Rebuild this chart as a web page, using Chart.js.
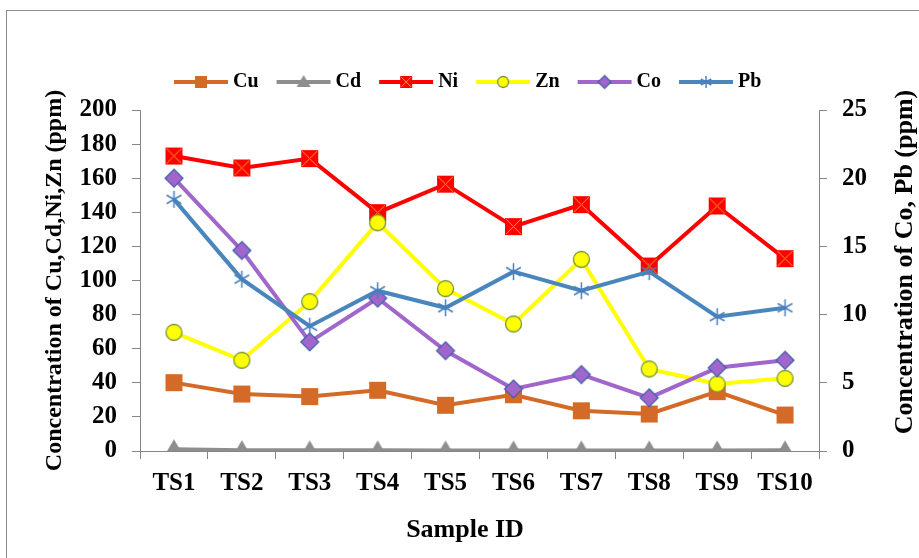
<!DOCTYPE html>
<html>
<head>
<meta charset="utf-8">
<script src="https://cdn.jsdelivr.net/npm/chart.js@4.4.0/dist/chart.umd.min.js"></script>
<style>
html, body { margin: 0; padding: 0; background: #fff; }
#wrap { position: relative; width: 919px; height: 558px; overflow: hidden; }
#frame { position: absolute; left: 6px; top: 10px; width: 960px; height: 600px; border: 1px solid #8c8c8c; }
canvas { position: absolute; left: 0; top: 0; }
</style>
</head>
<body>
<div id="wrap">
  <div id="frame"></div>
  <canvas id="chart" width="919" height="558"></canvas>
</div>
<script>
const samples = ["TS1", "TS2", "TS3", "TS4", "TS5", "TS6", "TS7", "TS8", "TS9", "TS10"];
const cu = [40.1, 33.4, 31.9, 35.6, 26.8, 33.0, 23.6, 21.7, 34.8, 21.1];
const cd = [1.0, 0.5, 0.4, 0.4, 0.3, 0.3, 0.3, 0.3, 0.3, 0.4];
const ni = [173.0, 166.0, 171.5, 139.8, 156.5, 131.6, 144.5, 108.5, 143.7, 112.8];
const zn = [69.6, 53.2, 87.6, 133.9, 95.2, 74.5, 112.4, 48.1, 39.3, 42.6];
const co = [20.0, 14.7, 8.0, 11.2, 7.35, 4.55, 5.6, 3.9, 6.1, 6.65];
const pb = [18.45, 12.6, 9.15, 11.75, 10.5, 13.15, 11.75, 13.15, 9.85, 10.5];
const leftTicks = [0, 20, 40, 60, 80, 100, 120, 140, 160, 180, 200];
const rightTicks = [0, 5, 10, 15, 20, 25];

const serif = '"Liberation Serif", "Times New Roman", serif';
const axisGray = '#868686';

// marker images, Excel style
function marker(kind, s) {
    const c = document.createElement('canvas');
    const pad = 2;
    c.width = c.height = s + pad * 2;
    const g = c.getContext('2d');
    const m = c.width / 2, h = s / 2;
    if (kind === 'square') {
        g.fillStyle = '#D46A28';
        g.fillRect(pad, pad, s, s);
    } else if (kind === 'triangle') {
        g.fillStyle = '#8E8E8E';
        g.beginPath();
        g.moveTo(m, m - h);
        g.lineTo(m + h, m + h * 0.7);
        g.lineTo(m - h, m + h * 0.7);
        g.closePath();
        g.fill();
    } else if (kind === 'ni') {
        g.fillStyle = '#FF0000';
        g.fillRect(pad, pad, s, s);
        g.strokeStyle = '#F0A020';
        g.lineWidth = 1;
        g.beginPath();
        g.moveTo(pad + 1, pad + 1); g.lineTo(pad + s - 1, pad + s - 1);
        g.moveTo(pad + s - 1, pad + 1); g.lineTo(pad + 1, pad + s - 1);
        g.stroke();
    } else if (kind === 'circle') {
        g.fillStyle = '#FFFF00';
        g.strokeStyle = '#77933C';
        g.lineWidth = 1.3;
        g.beginPath();
        g.arc(m, m, h - 0.5, 0, Math.PI * 2);
        g.fill();
        g.stroke();
    } else if (kind === 'diamond') {
        g.fillStyle = '#A066CC';
        g.strokeStyle = '#3E5FA8';
        g.lineWidth = 1.2;
        g.beginPath();
        g.moveTo(m, m - h); g.lineTo(m + h, m); g.lineTo(m, m + h); g.lineTo(m - h, m);
        g.closePath();
        g.fill();
        g.stroke();
    } else if (kind === 'star') {
        g.strokeStyle = '#4A7EBB';
        g.lineWidth = 1.5;
        g.beginPath();
        for (let k = 0; k < 3; k++) {
            const a = Math.PI / 2 + k * Math.PI / 3;
            g.moveTo(m + Math.cos(a) * h, m - Math.sin(a) * h);
            g.lineTo(m - Math.cos(a) * h, m + Math.sin(a) * h);
        }
        g.stroke();
    }
    return c;
}

function series(label, data, color, kind, axis, order, size) {
    return {
        label: label,
        data: data,
        borderColor: color,
        backgroundColor: color,
        borderWidth: 4,
        pointStyle: marker(kind, size),
        legendMark: marker(kind, Math.round(size * 0.72)),
        pointRadius: 8,
        yAxisID: axis,
        order: order,
        tension: 0
    };
}

const legendAndTitles = {
    id: 'legendAndTitles',
    afterDraw(chart) {
        const ctx = chart.ctx;
        ctx.save();
        ctx.font = 'bold 20px ' + serif;
        ctx.textBaseline = 'middle';
        let x = 174;
        const y = 82;
        chart.data.datasets.forEach(d => {
            ctx.strokeStyle = d.borderColor;
            ctx.lineWidth = 4;
            ctx.beginPath();
            ctx.moveTo(x, y);
            ctx.lineTo(x + 54, y);
            ctx.stroke();
            const img = d.legendMark;
            ctx.drawImage(img, x + 27 - img.width / 2, y - img.height / 2);
            ctx.fillStyle = '#000';
            ctx.fillText(d.label, x + 59, y);
            x += 59 + ctx.measureText(d.label).width + 18;
        });
        // x title, centred a bit left of the plot centre
        ctx.textAlign = 'center';
        ctx.textBaseline = 'alphabetic';
        ctx.font = 'bold 26px ' + serif;
        ctx.fillText('Sample ID', 465, 537);
        // right axis title reads bottom to top like the left one
        ctx.translate(912, 262);
        ctx.rotate(-Math.PI / 2);
        ctx.font = 'bold 26px ' + serif;
        ctx.fillText('Concentration of Co, Pb (ppm)', 0, 0);
        ctx.restore();
    }
};

const tickFont = { family: serif, weight: 'bold', size: 25 };
const titleFont = { family: serif, weight: 'bold', size: 24 };

new Chart(document.getElementById('chart'), {
    type: 'line',
    data: {
        labels: samples,
        datasets: [
            series('Cu', cu, '#D46A28', 'square', 'y', 5, 17),
            series('Cd', cd, '#8E8E8E', 'triangle', 'y', 4, 20),
            series('Ni', ni, '#FF0000', 'ni', 'y', 3, 17),
            series('Zn', zn, '#FFFF00', 'circle', 'y', 2, 17),
            series('Co', co, '#A066CC', 'diamond', 'y2', 1, 18),
            series('Pb', pb, '#4A86BE', 'star', 'y2', 0, 17)
        ]
    },
    options: {
        responsive: false,
        animation: false,
        events: [],
        layout: { padding: { top: 110, left: 0, right: 0, bottom: 0 } },
        plugins: {
            legend: { display: false },
            tooltip: { enabled: false }
        },
        scales: {
            x: {
                offset: true,
                grid: { offset: true, drawOnChartArea: false, color: axisGray, tickLength: 8 },
                border: { color: axisGray },
                ticks: { color: '#000', font: tickFont, padding: 10, maxRotation: 0, autoSkip: false },
                afterFit(s) { s.height = 107; }
            },
            y: {
                position: 'left',
                min: 0,
                max: 200,
                afterBuildTicks(s) { s.ticks = leftTicks.map(v => ({ value: v })); },
                grid: { drawOnChartArea: false, color: axisGray, tickLength: 8 },
                border: { color: axisGray },
                ticks: { color: '#000', font: tickFont, padding: 15 },
                title: { display: true, text: 'Concentration of Cu,Cd,Ni,Zn (ppm)', color: '#000', font: titleFont, padding: { top: 40, bottom: 0 } },
                afterFit(s) { s.width = 140; }
            },
            y2: {
                position: 'right',
                min: 0,
                max: 25,
                afterBuildTicks(s) { s.ticks = rightTicks.map(v => ({ value: v })); },
                grid: { drawOnChartArea: false, color: axisGray, tickLength: 8 },
                border: { color: axisGray },
                ticks: { color: '#000', font: tickFont, padding: 15 },
                afterFit(s) { s.width = 100; }
            }
        }
    },
    plugins: [legendAndTitles]
});
</script>
</body>
</html>
